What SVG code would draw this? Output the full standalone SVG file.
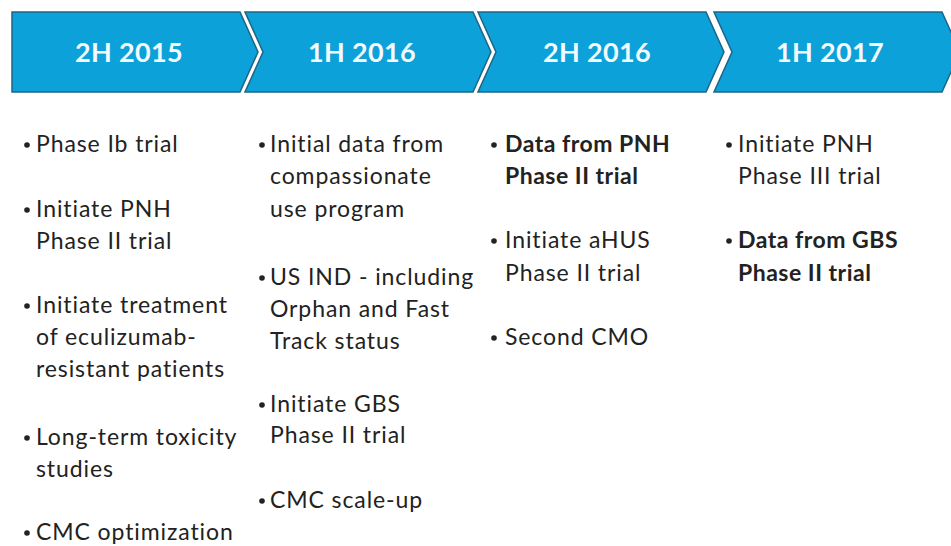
<svg xmlns="http://www.w3.org/2000/svg" width="951" height="546" viewBox="0 0 951 546">
<style>
.chev{fill:#0ca1d8;stroke:#1d6585;stroke-width:1.5}
.hd{font-family:Lato,"Open Sans",sans-serif;font-weight:bold;font-size:27px;letter-spacing:0.3px;fill:#f2faff;text-anchor:middle}
.tx{font-family:Lato,"Noto Sans",sans-serif;font-size:23px;letter-spacing:0.9px;fill:#222}
.b{font-weight:bold;letter-spacing:0.5px}
.bul{fill:#222}
</style>
<rect width="951" height="546" fill="#fff"/>
<g id="h1"><path class="chev" d="M12,12 H240 L258,52 L240,92 H12 Z"/><text class="hd" x="129" y="62">2H 2015</text></g>
<g id="h2"><path class="chev" d="M245,12 H473 L491,52 L473,92 H245 L263,52 Z"/><text class="hd" x="362" y="62">1H 2016</text></g>
<g id="h3"><path class="chev" d="M478,12 H706 L724,52 L706,92 H478 L496,52 Z"/><text class="hd" x="597" y="62">2H 2016</text></g>
<g id="h4"><path class="chev" d="M714,12 H942 L960,52 L942,92 H714 L732,52 Z"/><text class="hd" x="830" y="62">1H 2017</text></g>
<g id="col1">
<circle class="bul" cx="27" cy="145" r="2.8"/><text class="tx" x="36" y="152">Phase Ib trial</text>
<circle class="bul" cx="27" cy="210" r="2.8"/><text class="tx" x="36" y="217">Initiate PNH<tspan x="36" y="249">Phase II trial</tspan></text>
<circle class="bul" cx="27" cy="306" r="2.8"/><text class="tx" x="36" y="313">Initiate treatment<tspan x="36" y="345">of eculizumab-</tspan><tspan x="36" y="377">resistant patients</tspan></text>
<circle class="bul" cx="27" cy="438" r="2.8"/><text class="tx" x="36" y="445">Long-term toxicity<tspan x="36" y="477">studies</tspan></text>
<circle class="bul" cx="27" cy="533" r="2.8"/><text class="tx" x="36" y="540">CMC optimization</text>
</g>
<g id="col2">
<circle class="bul" cx="262" cy="145" r="2.8"/><text class="tx" x="270" y="152">Initial data from<tspan x="270" y="184">compassionate</tspan><tspan x="270" y="217">use program</tspan></text>
<circle class="bul" cx="262" cy="278" r="2.8"/><text class="tx" x="270" y="285">US IND - including<tspan x="270" y="317">Orphan and Fast</tspan><tspan x="270" y="349">Track status</tspan></text>
<circle class="bul" cx="262" cy="405" r="2.8"/><text class="tx" x="270" y="412">Initiate GBS<tspan x="270" y="443">Phase II trial</tspan></text>
<circle class="bul" cx="262" cy="501" r="2.8"/><text class="tx" x="270" y="508">CMC scale-up</text>
</g>
<g id="col3">
<circle class="bul" cx="494" cy="145" r="2.8"/><text class="tx b" x="505" y="152">Data from PNH<tspan x="505" y="184">Phase II trial</tspan></text>
<circle class="bul" cx="494" cy="241" r="2.8"/><text class="tx" x="505" y="248">Initiate aHUS<tspan x="505" y="281">Phase II trial</tspan></text>
<circle class="bul" cx="494" cy="338" r="2.8"/><text class="tx" x="505" y="345">Second CMO</text>
</g>
<g id="col4">
<circle class="bul" cx="729" cy="145" r="2.8"/><text class="tx" x="738" y="152">Initiate PNH<tspan x="738" y="184">Phase III trial</tspan></text>
<circle class="bul" cx="729" cy="241" r="2.8"/><text class="tx b" x="738" y="248">Data from GBS<tspan x="738" y="281">Phase II trial</tspan></text>
</g>
</svg>
